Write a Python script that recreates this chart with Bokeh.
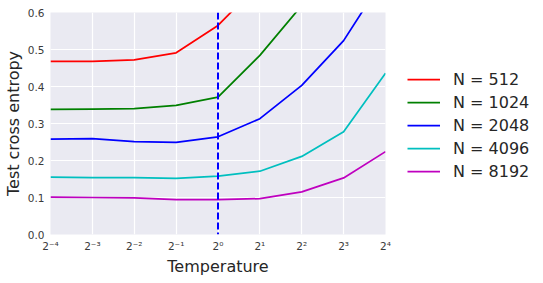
from bokeh.plotting import figure
from bokeh.models import FixedTicker, Legend, LegendItem, Span, Range1d
from bokeh.embed import file_html
from bokeh.resources import INLINE

temperatures = [2**-4, 2**-3, 2**-2, 2**-1, 2**0, 2**1, 2**2, 2**3, 2**4]
tick_labels = ["2⁻⁴", "2⁻³", "2⁻²", "2⁻¹", "2⁰", "2¹", "2²", "2³", "2⁴"]
n512 = [0.468, 0.468, 0.472, 0.491, 0.565, 0.68, 0.80, 0.95, 1.10]
n1024 = [0.338, 0.339, 0.340, 0.349, 0.371, 0.484, 0.619, 0.80, 1.00]
n2048 = [0.258, 0.259, 0.251, 0.249, 0.264, 0.313, 0.403, 0.524, 0.70]
n4096 = [0.155, 0.154, 0.154, 0.152, 0.158, 0.171, 0.211, 0.278, 0.436]
n8192 = [0.101, 0.100, 0.099, 0.094, 0.094, 0.097, 0.115, 0.153, 0.224]
series_labels = ["N = 512", "N = 1024", "N = 2048", "N = 4096", "N = 8192"]
series_colors = ["#FF0000", "#008000", "#0000FF", "#00BFBF", "#BF00BF"]
y_ticks = [0.0, 0.1, 0.2, 0.3, 0.4, 0.5, 0.6]

FONT = "DejaVu Sans"

p = figure(frame_width=335, frame_height=222, x_axis_type="log",
           x_range=Range1d(2**-4, 2**4), y_range=Range1d(0, 0.6),
           output_backend="svg", toolbar_location=None,
           min_border_left=50, min_border_top=12, min_border_bottom=49, min_border_right=10)
p.background_fill_color = "#EAEAF2"
p.border_fill_color = "white"
p.outline_line_color = None

p.xaxis.ticker = FixedTicker(ticks=temperatures)
p.xaxis.major_label_overrides = {t: l for t, l in zip(temperatures, tick_labels)}
p.yaxis.ticker = FixedTicker(ticks=y_ticks)
p.yaxis.major_label_overrides = {t: f"{t:.1f}" for t in y_ticks}

for ax in (p.xaxis, p.yaxis):
    ax.axis_line_color = None
    ax.major_tick_line_color = None
    ax.minor_tick_line_color = None
    ax.major_tick_out = 0
    ax.major_tick_in = 0
    ax.minor_tick_out = 0
    ax.minor_tick_in = 0
    ax.major_label_text_font = FONT
    ax.major_label_text_font_size = "10.5px"
    ax.major_label_text_color = "#3a3a3a"
    ax.axis_label_text_font = FONT
    ax.axis_label_text_font_size = "16px"
    ax.axis_label_text_font_style = "normal"
    ax.axis_label_text_color = "#262626"
p.xaxis.axis_label = "Temperature"
p.yaxis.axis_label = "Test cross entropy"
p.xaxis.major_label_standoff = 5
p.yaxis.major_label_standoff = 6
p.xaxis.axis_label_standoff = 2
p.yaxis.axis_label_standoff = 2

p.xgrid.grid_line_color = "white"
p.ygrid.grid_line_color = "white"
p.xgrid.grid_line_width = 1.2
p.ygrid.grid_line_width = 1.2
p.xgrid.ticker = FixedTicker(ticks=temperatures)
p.ygrid.ticker = FixedTicker(ticks=y_ticks)

items = []
for vals, lab, col in zip([n512, n1024, n2048, n4096, n8192], series_labels, series_colors):
    r = p.line(temperatures, vals, line_color=col, line_width=1.75)
    items.append(LegendItem(label=lab, renderers=[r]))

p.add_layout(Span(location=1.0, dimension="height", line_color="#0000FF",
                  line_width=2, line_dash="7 3"))

legend = Legend(items=items, location=(22, 53), orientation="vertical")
legend.label_text_font = FONT
legend.label_text_font_size = "16px"
legend.label_text_color = "#262626"
legend.glyph_width = 33
legend.glyph_height = 20
legend.label_height = 20
legend.spacing = 3
legend.label_standoff = 13
legend.border_line_color = None
legend.background_fill_alpha = 0
legend.margin = 0
legend.padding = 0
p.add_layout(legend, "right")

open("out.html", "w").write(file_html(p, INLINE))
